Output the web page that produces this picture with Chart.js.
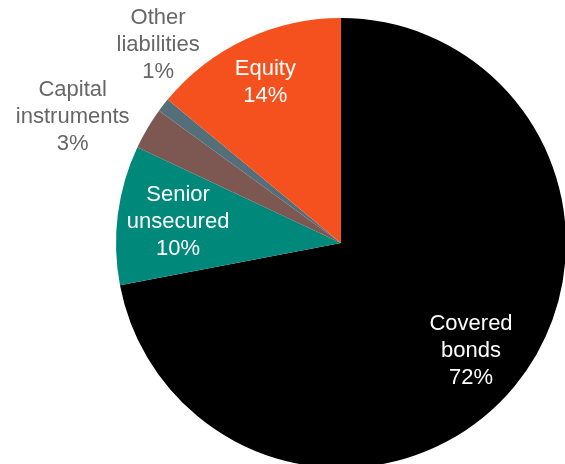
<!DOCTYPE html>
<html>
<head>
<meta charset="utf-8">
<script src="https://cdn.jsdelivr.net/npm/chart.js@4/dist/chart.umd.min.js"></script>
<style>
    html, body { margin: 0; padding: 0; background: #fff; overflow: hidden; width: 565px; height: 464px; }
    #wrap { position: absolute; left: 0; top: 0; width: 682px; height: 486px; }
</style>
</head>
<body>
<div id="wrap"><canvas id="fundingChart"></canvas></div>
<script>
// funding mix, clockwise from 12 o'clock
const categories = ['Covered\nbonds', 'Senior\nunsecured', 'Capital\ninstruments', 'Other\nliabilities', 'Equity'];
const shares = [72, 10, 3, 1, 14];
const sliceColors = ['#000000', '#00897b', '#7d5751', '#546e7a', '#f4511e'];

// label placement: radius as a share of the pie radius, plus a nudge in px
const labelLayout = [
    { r: 0.75, dx: 0, dy: 0, color: '#ffffff' },
    { r: 0.73, dx: 0, dy: 0, color: '#ffffff' },
    { r: 1.22, dx: -32, dy: 14, color: '#666666' },
    { r: 1.22, dx: 34, dy: -30, color: '#666666' },
    { r: 0.79, dx: 0, dy: 0, color: '#ffffff' }
];

const sliceLabels = {
    id: 'sliceLabels',
    afterDatasetsDraw(chart) {
        const ctx = chart.ctx;
        const meta = chart.getDatasetMeta(0);
        ctx.save();
        ctx.font = '22px "Liberation Sans", Arial, sans-serif';
        ctx.textAlign = 'center';
        ctx.textBaseline = 'middle';
        meta.data.forEach((arc, i) => {
            const p = arc.getProps(['x', 'y', 'startAngle', 'endAngle', 'outerRadius'], true);
            const mid = (p.startAngle + p.endAngle) / 2;
            const lay = labelLayout[i];
            const x = p.x + Math.cos(mid) * p.outerRadius * lay.r + lay.dx;
            const y = p.y + Math.sin(mid) * p.outerRadius * lay.r + lay.dy;
            const lines = categories[i].split('\n').concat(shares[i] + '%');
            const lh = 27;
            ctx.fillStyle = lay.color;
            lines.forEach((t, k) => {
                ctx.fillText(t, x, y + (k - (lines.length - 1) / 2) * lh);
            });
        });
        ctx.restore();
    }
};

new Chart(document.getElementById('fundingChart'), {
    type: 'pie',
    data: {
        labels: categories.map(c => c.replace('\n', ' ')),
        datasets: [{
            data: shares,
            backgroundColor: sliceColors,
            borderWidth: 0
        }]
    },
    options: {
        responsive: true,
        maintainAspectRatio: false,
        animation: false,
        layout: { padding: { top: 18, bottom: 18 } },
        plugins: {
            legend: { display: false },
            tooltip: { enabled: false }
        }
    },
    plugins: [sliceLabels]
});
</script>
</body>
</html>
